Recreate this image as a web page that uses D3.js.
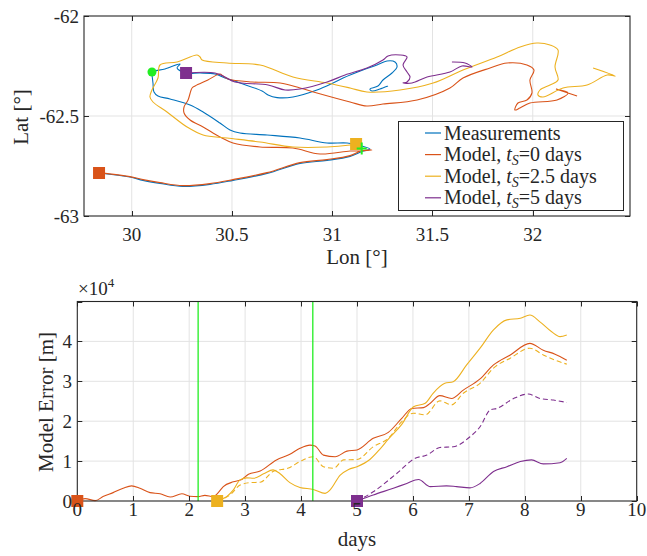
<!DOCTYPE html>
<html lang="en">
<head>
  <meta charset="utf-8" />
  <script src="https://d3js.org/d3.v7.min.js"></script>
  <style>
    body { margin: 0; background: #fff; }
    svg text { font-family: "Liberation Serif", "Times New Roman", serif; fill: #262626; }
  </style>
</head>
<body>
  <script>
    // ---- track data (lon / lat) ----
    var measLon = [29.837, 29.991, 30.056, 30.141, 30.256, 30.390, 30.505, 30.675, 30.839, 30.974, 31.089, 31.148, 31.188,
      31.148, 31.074, 30.974, 30.839, 30.675, 30.540, 30.490, 30.440, 30.356, 30.291, 30.191, 30.131, 30.111, 30.106, 30.101, 30.101,
      30.166, 30.241, 30.226, 30.271, 30.341, 30.415, 30.465, 30.540, 30.650, 30.680, 30.725, 30.804, 30.924, 31.004, 31.054,
      31.153, 31.223, 31.273, 31.313, 31.323, 31.298, 31.253, 31.228, 31.188, 31.198, 31.238, 31.278];
    var measLat = [-62.785, -62.805, -62.822, -62.837, -62.852, -62.842, -62.822, -62.787, -62.737, -62.722, -62.702, -62.677, -62.665,
      -62.650, -62.635, -62.635, -62.610, -62.595, -62.585, -62.570, -62.535, -62.480, -62.445, -62.415, -62.400, -62.380, -62.335, -62.290, -62.280,
      -62.265, -62.240, -62.260, -62.285, -62.285, -62.290, -62.310, -62.335, -62.375, -62.395, -62.408, -62.405, -62.370, -62.335, -62.310,
      -62.270, -62.245, -62.225, -62.230, -62.255, -62.285, -62.320, -62.350, -62.365, -62.375, -62.365, -62.350];

    var m0Lon = [29.837, 29.991, 30.056, 30.141, 30.256, 30.390, 30.505, 30.675, 30.839, 30.974, 31.089, 31.148, 31.198,
      31.139, 31.089, 30.939, 30.804, 30.640, 30.505, 30.440, 30.356, 30.291, 30.261, 30.261, 30.281, 30.301, 30.316, 30.380,
      30.440, 30.455, 30.480, 30.600, 30.740, 30.839, 30.924, 31.089, 31.173, 31.253, 31.423, 31.587, 31.652, 31.787, 31.872,
      31.971, 32.006, 31.986, 31.996, 31.971, 31.926, 31.911, 31.936, 31.986, 32.121, 32.176, 32.116, 32.221];
    var m0Lat = [-62.783, -62.803, -62.818, -62.833, -62.848, -62.838, -62.818, -62.783, -62.733, -62.718, -62.698, -62.673, -62.670,
      -62.675, -62.675, -62.690, -62.660, -62.655, -62.635, -62.605, -62.555, -62.520, -62.485, -62.455, -62.420, -62.360, -62.350, -62.320,
      -62.290, -62.300, -62.315, -62.330, -62.335, -62.360, -62.385, -62.430, -62.450, -62.440, -62.420, -62.360, -62.310, -62.260, -62.235,
      -62.245, -62.270, -62.320, -62.385, -62.420, -62.435, -62.470, -62.460, -62.435, -62.420, -62.385, -62.365, -62.400];

    var m25Lon = [31.119, 31.089, 30.974, 30.804, 30.640, 30.475, 30.356, 30.276, 30.176, 30.106, 30.091, 30.101, 30.131, 30.141,
      30.226, 30.326, 30.341, 30.351, 30.475, 30.640, 30.804, 30.974, 31.089, 31.173, 31.338, 31.503, 31.652, 31.822, 31.937,
      32.021, 32.086, 32.126, 32.111, 32.126, 32.086, 32.036, 32.026, 32.051, 32.151, 32.271, 32.371, 32.411, 32.301];
    var m25Lat = [-62.640, -62.645, -62.655, -62.655, -62.630, -62.610, -62.595, -62.555, -62.480, -62.430, -62.405, -62.370, -62.310, -62.245,
      -62.230, -62.195, -62.205, -62.220, -62.235, -62.245, -62.305, -62.335, -62.360, -62.380, -62.370, -62.335, -62.270, -62.205, -62.155,
      -62.135, -62.145, -62.170, -62.255, -62.320, -62.345, -62.370, -62.395, -62.405, -62.360, -62.345, -62.295, -62.300, -62.260];

    var m5Lon = [30.271, 30.415, 30.465, 30.515, 30.680, 30.765, 30.839, 30.974, 31.064, 31.173, 31.253, 31.278, 31.338, 31.373,
      31.353, 31.373, 31.388, 31.373, 31.353, 31.398, 31.473, 31.587, 31.647, 31.697, 31.662, 31.597];
    var m5Lat = [-62.285, -62.285, -62.305, -62.330, -62.345, -62.370, -62.365, -62.330, -62.295, -62.260, -62.220, -62.200, -62.195, -62.205,
      -62.245, -62.280, -62.305, -62.330, -62.335, -62.335, -62.305, -62.280, -62.250, -62.255, -62.235, -62.230];

    var startSquares = [[29.837, -62.785], [31.119, -62.640], [30.271, -62.285]];
    var circlePt = [30.101, -62.280];
    var plusPt = [31.147, -62.662];

    var lonTicks = [30, 30.5, 31, 31.5, 32];
    var latTicks = [-63, -62.5, -62];

    // ---- model error data (x10^4 m) ----
    var err0Days = [0, 0.14, 0.32, 0.46, 0.64, 0.82, 0.97, 1.12, 1.30, 1.48, 1.66, 1.87, 2.01, 2.16, 2.28, 2.43, 2.52, 2.61, 2.79, 2.94,
      3.06, 3.27, 3.56, 3.80, 3.98, 4.16, 4.25, 4.40, 4.61, 4.82, 5.00, 5.29, 5.56, 5.80, 5.98, 6.19, 6.31, 6.48, 6.69, 6.90, 7.20,
      7.44, 7.74, 8.09, 8.33, 8.54, 8.75];
    var err0 = [0.02, 0.06, 0.01, 0.11, 0.21, 0.32, 0.38, 0.32, 0.21, 0.18, 0.10, 0.18, 0.12, 0.11, 0.14, 0.11, 0.21, 0.36, 0.48, 0.54,
      0.67, 0.75, 1.03, 1.17, 1.32, 1.40, 1.38, 1.15, 1.11, 1.25, 1.28, 1.57, 1.72, 2.07, 2.32, 2.34, 2.45, 2.64, 2.57, 2.78, 3.06,
      3.41, 3.66, 3.95, 3.78, 3.68, 3.53];

    var err25Days = [2.50, 2.67, 2.79, 2.91, 3.03, 3.15, 3.33, 3.50, 3.62, 3.80, 3.98, 4.22, 4.43, 4.52, 4.70, 4.85, 5.00, 5.23,
      5.41, 5.56, 5.80, 6.01, 6.22, 6.36, 6.57, 6.72, 6.96, 7.20, 7.44, 7.68, 7.92, 8.09, 8.27, 8.48, 8.63, 8.75];
    var err25 = [0.02, 0.11, 0.28, 0.53, 0.58, 0.57, 0.68, 0.78, 0.69, 0.46, 0.34, 0.29, 0.19, 0.28, 0.65, 0.79, 0.86, 1.04,
      1.30, 1.55, 1.92, 2.36, 2.45, 2.70, 2.95, 2.99, 3.41, 3.83, 4.29, 4.54, 4.58, 4.66, 4.49, 4.24, 4.12, 4.16];

    var err25dDays = [2.50, 2.73, 2.91, 3.09, 3.27, 3.50, 3.80, 3.98, 4.22, 4.40, 4.58, 4.76, 5.00, 5.29, 5.56, 5.80, 6.01,
      6.22, 6.48, 6.69, 6.90, 7.20, 7.44, 7.74, 8.09, 8.33, 8.54, 8.75];
    var err25d = [0.02, 0.15, 0.40, 0.46, 0.47, 0.74, 0.84, 0.99, 1.11, 0.86, 0.82, 1.03, 1.04, 1.36, 1.57, 1.99, 2.20,
      2.16, 2.51, 2.41, 2.70, 2.95, 3.33, 3.58, 3.83, 3.66, 3.53, 3.43];

    var err5Days = [5.00, 5.29, 5.65, 5.89, 6.10, 6.31, 6.60, 6.78, 7.02, 7.20, 7.44, 7.68, 7.92, 8.12, 8.33, 8.63, 8.75];
    var err5 = [0, 0.15, 0.32, 0.44, 0.54, 0.36, 0.38, 0.36, 0.33, 0.44, 0.74, 0.86, 0.99, 1.03, 0.93, 0.96, 1.07];

    var err5dDays = [5.00, 5.29, 5.71, 6.04, 6.25, 6.48, 6.72, 7.02, 7.20, 7.38, 7.50, 7.80, 8.06, 8.27, 8.51, 8.75];
    var err5d = [0, 0.23, 0.69, 1.07, 1.15, 1.34, 1.36, 1.61, 1.86, 2.28, 2.32, 2.57, 2.68, 2.57, 2.53, 2.47];

    var eventDays = [2.16, 4.21];
    var startDays = [0, 2.5, 5];
    var dayTicks = d3.range(0, 11);
    var errTicks = [0, 1, 2, 3, 4];

    var legendLabels = ["Measurements", "Model, |0 days", "Model, |2.5 days", "Model, |5 days"];

    var blue = "#0072bd", orange = "#d95319", yellow = "#edb120", purple = "#7e2f8e", green = "#22ee22";
    var axisCol = "#262626", gridCol = "#e3e3e3";

    var width = 647, height = 556;
    var svg = d3.select("body").append("svg")
      .attr("width", width)
      .attr("height", height);

    // ================= top panel =================
    var x1 = d3.scaleLinear().domain([29.762, 32.485]).range([84, 630]);
    var y1 = d3.scaleLinear().domain([-63, -62]).range([216, 16]);

    var topG = svg.append("g");

    topG.append("g").selectAll("line")
      .data(lonTicks).enter().append("line")
      .attr("x1", d => x1(d)).attr("x2", d => x1(d))
      .attr("y1", y1(-63)).attr("y2", y1(-62))
      .attr("stroke", gridCol);
    topG.append("line")
      .attr("x1", x1.range()[0]).attr("x2", x1.range()[1])
      .attr("y1", y1(-62.5)).attr("y2", y1(-62.5))
      .attr("stroke", gridCol);

    drawBox(topG, x1, y1, lonTicks, latTicks);

    topG.append("g").selectAll("text")
      .data(lonTicks).enter().append("text")
      .attr("x", d => x1(d)).attr("y", 241)
      .attr("text-anchor", "middle").attr("font-size", 19)
      .text(d => d);
    topG.append("g").selectAll("text")
      .data(latTicks).enter().append("text")
      .attr("x", 79).attr("y", d => y1(d) + 6.5)
      .attr("text-anchor", "end").attr("font-size", 19)
      .text(d => d);

    var trackLine = d3.line()
      .x(d => x1(d[0])).y(d => y1(d[1]))
      .curve(d3.curveCatmullRom.alpha(0.5));

    var tracks = [
      [measLon, measLat, blue],
      [m0Lon, m0Lat, orange],
      [m25Lon, m25Lat, yellow],
      [m5Lon, m5Lat, purple]
    ];
    tracks.forEach(function (t) {
      topG.append("path")
        .datum(d3.zip(t[0], t[1]))
        .attr("d", trackLine)
        .attr("fill", "none")
        .attr("stroke", t[2])
        .attr("stroke-width", 1.1);
    });

    topG.append("g").selectAll("rect")
      .data(startSquares).enter().append("rect")
      .attr("x", d => x1(d[0]) - 6).attr("y", d => y1(d[1]) - 6)
      .attr("width", 12).attr("height", 12)
      .attr("fill", (d, i) => [orange, yellow, purple][i]);

    topG.append("circle")
      .attr("cx", x1(circlePt[0])).attr("cy", y1(circlePt[1]))
      .attr("r", 4.5).attr("fill", green);

    var px = x1(plusPt[0]), py = y1(plusPt[1]);
    topG.append("path")
      .attr("d", "M" + (px - 5) + "," + py + "H" + (px + 5) + "M" + px + "," + (py - 6) + "V" + (py + 6))
      .attr("stroke", green).attr("stroke-width", 2);

    topG.append("text")
      .attr("x", 357).attr("y", 264)
      .attr("text-anchor", "middle").attr("font-size", 21)
      .text("Lon [°]");
    topG.append("text")
      .attr("transform", "translate(28,117) rotate(-90)")
      .attr("text-anchor", "middle").attr("font-size", 21)
      .text("Lat [°]");

    // legend
    var leg = topG.append("g");
    leg.append("rect")
      .attr("x", 398.5).attr("y", 121.5).attr("width", 225).attr("height", 89)
      .attr("fill", "#fff").attr("stroke", axisCol).attr("stroke-width", 1);
    var legColors = [blue, orange, yellow, purple];
    legendLabels.forEach(function (lab, i) {
      var ly = 133 + i * 21.6;
      leg.append("line")
        .attr("x1", 425).attr("x2", 441).attr("y1", ly).attr("y2", ly)
        .attr("stroke", legColors[i]).attr("stroke-width", 1.2);
      var t = leg.append("text").attr("x", 444).attr("y", ly + 6.5).attr("font-size", 20);
      var parts = lab.split("|");
      t.append("tspan").text(parts[0]);
      if (parts.length > 1) {
        t.append("tspan").attr("font-style", "italic").text("t");
        t.append("tspan").attr("font-style", "italic").attr("font-size", 14).attr("dy", 4).text("S");
        t.append("tspan").attr("dy", -4).text("=" + parts[1]);
      }
    });

    // ================= bottom panel =================
    var x2 = d3.scaleLinear().domain([0, 10]).range([77.3, 636.7]);
    var y2 = d3.scaleLinear().domain([0, 5]).range([501, 301.5]);

    var botG = svg.append("g");

    botG.append("g").selectAll("line")
      .data(dayTicks.slice(1, 10)).enter().append("line")
      .attr("x1", d => x2(d)).attr("x2", d => x2(d))
      .attr("y1", y2(0)).attr("y2", y2(5))
      .attr("stroke", gridCol);
    botG.append("g").selectAll("line")
      .data(errTicks.slice(1)).enter().append("line")
      .attr("x1", x2(0)).attr("x2", x2(10))
      .attr("y1", d => y2(d)).attr("y2", d => y2(d))
      .attr("stroke", gridCol);

    var errLine = d3.line()
      .x(d => x2(d[0])).y(d => y2(d[1]))
      .curve(d3.curveMonotoneX);

    var series = [
      [err0Days, err0, orange, null],
      [err25Days, err25, yellow, null],
      [err25dDays, err25d, yellow, "5,3"],
      [err5Days, err5, purple, null],
      [err5dDays, err5d, purple, "5,3"]
    ];
    series.forEach(function (s) {
      botG.append("path")
        .datum(d3.zip(s[0], s[1]))
        .attr("d", errLine)
        .attr("fill", "none")
        .attr("stroke", s[2])
        .attr("stroke-width", 1.1)
        .attr("stroke-dasharray", s[3]);
    });

    botG.append("g").selectAll("line")
      .data(eventDays).enter().append("line")
      .attr("x1", d => x2(d)).attr("x2", d => x2(d))
      .attr("y1", y2(0)).attr("y2", y2(5))
      .attr("stroke", green).attr("stroke-width", 1.3);

    drawBox(botG, x2, y2, dayTicks, [0, 1, 2, 3, 4, 5]);

    botG.append("g").selectAll("rect")
      .data(startDays).enter().append("rect")
      .attr("x", d => x2(d) - 6).attr("y", y2(0) - 6)
      .attr("width", 12).attr("height", 12)
      .attr("fill", (d, i) => [orange, yellow, purple][i]);

    botG.append("g").selectAll("text")
      .data(dayTicks).enter().append("text")
      .attr("x", d => x2(d)).attr("y", 516)
      .attr("text-anchor", "middle").attr("font-size", 19)
      .text(d => d);
    botG.append("g").selectAll("text")
      .data(errTicks).enter().append("text")
      .attr("x", 72).attr("y", d => y2(d) + 6.5)
      .attr("text-anchor", "end").attr("font-size", 19)
      .text(d => d);

    var mult = botG.append("text").attr("x", 78).attr("y", 295).attr("font-size", 19);
    mult.append("tspan").text("×10");
    mult.append("tspan").attr("font-size", 13).attr("dy", -8).text("4");

    botG.append("text")
      .attr("x", 357).attr("y", 546)
      .attr("text-anchor", "middle").attr("font-size", 21)
      .text("days");
    botG.append("text")
      .attr("transform", "translate(53,402) rotate(-90)")
      .attr("text-anchor", "middle").attr("font-size", 21)
      .text("Model Error [m]");

    function drawBox(g, xs, ys, xt, yt) {
      var x0 = xs.range()[0], xe = xs.range()[1];
      var yb = ys.range()[0], yt0 = ys.range()[1];
      var tl = 5;
      var ticks = g.append("g").attr("stroke", axisCol).attr("stroke-width", 1);
      xt.forEach(function (d) {
        var x = Math.round(xs(d)) + 0.5;
        ticks.append("line").attr("x1", x).attr("x2", x).attr("y1", yb).attr("y2", yb - tl);
        ticks.append("line").attr("x1", x).attr("x2", x).attr("y1", yt0).attr("y2", yt0 + tl);
      });
      yt.forEach(function (d) {
        var y = Math.round(ys(d)) + 0.5;
        ticks.append("line").attr("x1", x0).attr("x2", x0 + tl).attr("y1", y).attr("y2", y);
        ticks.append("line").attr("x1", xe).attr("x2", xe - tl).attr("y1", y).attr("y2", y);
      });
      g.append("rect")
        .attr("x", x0).attr("y", yt0)
        .attr("width", xe - x0).attr("height", yb - yt0)
        .attr("fill", "none").attr("stroke", axisCol).attr("stroke-width", 1.1);
    }
  </script>
</body>
</html>
